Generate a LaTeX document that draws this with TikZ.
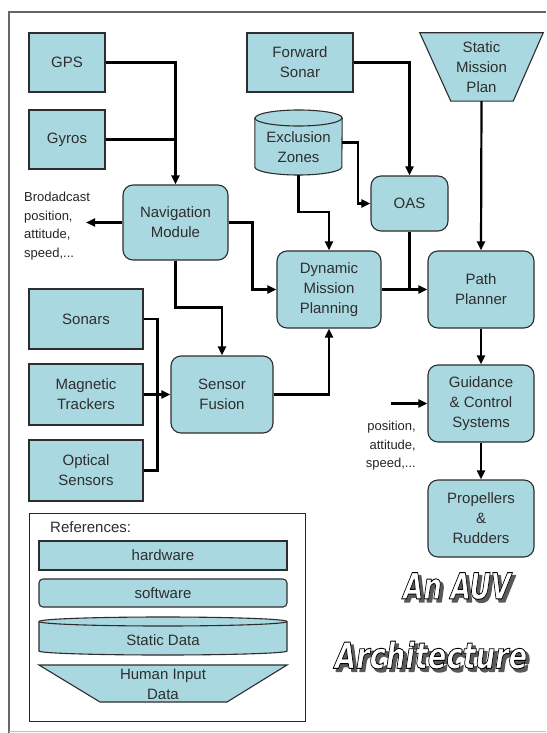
\documentclass[tikz,border=0pt]{standalone}
\usepackage{fontspec}
\setmainfont{Liberation Sans}
\newfontfamily\auvtitlefont{DejaVu Sans}
\usetikzlibrary{arrows.meta,calc}
\definecolor{boxfill}{RGB}{170,216,224}
\definecolor{boxline}{RGB}{45,45,45}
\newcommand\auvstroke[1]{\special{pdf:literal direct q 2 Tr 0.9 w 1 j 0 G 1 g}#1\special{pdf:literal direct Q}}
\newcommand\auvshade[1]{\special{pdf:literal direct q 2 Tr 1.6 w 1 j 0.35 G 0.35 g}#1\special{pdf:literal direct Q}}
\tikzset{
  hw/.style={draw=boxline, fill=boxfill, line width=1.1pt, align=center,
    font=\fontsize{15}{20}\selectfont, text=black!82, inner sep=0pt},
  sw/.style={hw, rounded corners=10pt},
  shapefill/.style={draw=boxline, fill=boxfill, line width=1.1pt},
  ghost/.style={inner sep=0pt, align=center, font=\fontsize{15}{20}\selectfont, text=black!82},
  note/.style={inner sep=0pt, font=\fontsize{13}{18.5}\selectfont, text=black!85},
  wire/.style={draw=black, line width=2.2pt},
  arr/.style={wire, -{Triangle[length=9pt,width=8pt]}},
  titletext/.style={inner sep=0pt, font=\auvtitlefont\bfseries\itshape\fontsize{36}{40}\selectfont},
}
\begin{document}
\begin{tikzpicture}[x=1pt,y=-1pt]
\useasboundingbox (0,0) rectangle (546,733);
\fill[white] (0,0) rectangle (546,733);
% outer frame
\draw[black!60, line width=1.2pt] (546,12) -- (9,12) -- (9,733);
\draw[black!25, line width=1pt] (9,731) -- (546,731);

% hardware boxes
\node[hw, minimum width=76pt, minimum height=59pt] (gps) at (67,62.5) {GPS};
\node[hw, minimum width=76pt, minimum height=59pt] (gyros) at (67,139.5) {Gyros};
\node[hw, minimum width=106pt, minimum height=59pt] (fs) at (300,62.5) {Forward\\Sonar};
\node[hw, minimum width=114pt, minimum height=60pt] (sonars) at (86,319) {Sonars};
\node[hw, minimum width=114pt, minimum height=61pt] (mag) at (86,394.5) {Magnetic\\Trackers};
\node[hw, minimum width=114pt, minimum height=61pt] (opt) at (86,470.5) {Optical\\Sensors};

% software boxes
\node[sw, minimum width=105pt, minimum height=75pt] (nav) at (175.5,222.5) {Navigation\\Module};
\node[sw, minimum width=77pt, minimum height=55pt] (oas) at (409.5,203.5) {OAS};
\node[sw, minimum width=104pt, minimum height=77pt] (dmp) at (329,289.5) {Dynamic\\Mission\\Planning};
\node[sw, minimum width=106pt, minimum height=77pt] (pp) at (481,289.5) {Path\\Planner};
\node[sw, minimum width=102pt, minimum height=77pt] (sf) at (222,394.5) {Sensor\\Fusion};
\node[sw, minimum width=106pt, minimum height=77pt] (gcs) at (481,403.5) {Guidance\\\& Control\\Systems};
\node[sw, minimum width=106pt, minimum height=77pt] (prop) at (481,518.5) {Propellers\\\&\\Rudders};

% static mission plan (human input)
\node[ghost, minimum width=123pt, minimum height=68pt] (smp) at (481.5,67) {};
\path[shapefill] (smp.north west) -- (smp.north east) -- ($(smp.south east)+(-30,0)$)
  -- ($(smp.south west)+(31,0)$) -- cycle;
\node[ghost] (smptext) at (smp) {Static\\Mission\\Plan};

% exclusion zones (static data)
\node[ghost, minimum width=87pt, minimum height=65pt] (ez) at (298.5,142.5) {};
\path[shapefill] (ez.west |- 0,118) -- (ez.west |- 0,167)
  arc[start angle=180, end angle=360, x radius=43.5pt, y radius=8pt]
  -- (ez.east |- 0,118)
  arc[start angle=0, end angle=180, x radius=43.5pt, y radius=8pt] -- cycle;
\draw[draw=boxline, line width=1.1pt] (ez.west |- 0,118)
  arc[start angle=180, end angle=360, x radius=43.5pt, y radius=8pt];
\node[ghost] (eztext) at (298.5,147) {Exclusion\\Zones};

% connectors
\draw[arr] (gps.east) -| (nav.north);
\draw[wire] (gyros.east) -- (gyros.east -| nav.north);
\coordinate (bcast) at (86,222.5);
\draw[arr] (nav.west) -- (bcast);
\draw[arr] (nav.east) -- ++(24,0) |- (dmp.west);
\draw[arr] (nav.south) -- ++(0,47) -| (sf.north);
\draw[wire] (sonars.east) -- ++(14,0) |- (opt.east);
\draw[arr] (mag.east) -- (sf.west);
\draw[arr] (sf.east) -| (dmp.south);
\draw[arr] (fs.east) -| (oas.north);
\draw[arr] (ez.east) -- ++(16,0) |- (oas.west);
\draw[arr] (ez.south) -- ++(0,37) -| (dmp.north);
\draw[arr] (dmp.east) -- (pp.west);
\draw[wire] (oas.south) -- (oas.south |- dmp.east);
\draw[arr] (smp.south) -- (pp.north);
\draw[arr] (pp.south) -- (gcs.north);
\draw[arr] (gcs.south) -- (prop.north);
\coordinate (gin) at (391,403.5);
\draw[arr] (gin) -- (gcs.west);

% notes
\node[note, anchor=north west, align=left] (bnote) at (24,192)
  {Brodadcast\\position,\\attitude,\\speed,...};
\node[note, anchor=north east, align=right] (gnote) at (416,421)
  {position,\\attitude,\\speed,...};

% legend
\node[draw=black!85, line width=1pt, minimum width=276pt, minimum height=208pt, inner sep=0pt] (legend) at (167,617) {};
\node[ghost, anchor=west] (lref) at (50,527) {References:};
\node[hw, minimum width=248pt, minimum height=29pt] (lhw) at (163,555.5) {hardware};
\node[sw, rounded corners=4pt, minimum width=248pt, minimum height=28pt] (lsw) at (163,593) {software};
\path[shapefill] (39,621.5) -- (39,651)
  arc[start angle=180, end angle=360, x radius=124pt, y radius=4pt]
  -- (287,621.5)
  arc[start angle=0, end angle=180, x radius=124pt, y radius=4.5pt] -- cycle;
\draw[draw=boxline, line width=1.1pt] (39,621.5)
  arc[start angle=180, end angle=360, x radius=124pt, y radius=4.5pt];
\node[ghost] (lsd) at (163,640) {Static Data};
\path[shapefill] (39,665) -- (287,665) -- (227,702) -- (100,702) -- cycle;
\node[ghost] (lhi) at (163,684) {Human Input\\Data};

% title
\node[titletext] (title1s) at (460,589) {\scalebox{0.72}[1]{\auvshade{An AUV}}};
\node[titletext] (title1) at (457,586) {\scalebox{0.72}[1]{\auvstroke{An AUV}}};
\node[titletext] (title2s) at (434,658) {\scalebox{0.76}[1]{\auvshade{Architecture}}};
\node[titletext] (title2) at (431,655) {\scalebox{0.76}[1]{\auvstroke{Architecture}}};
\end{tikzpicture}
\end{document}
